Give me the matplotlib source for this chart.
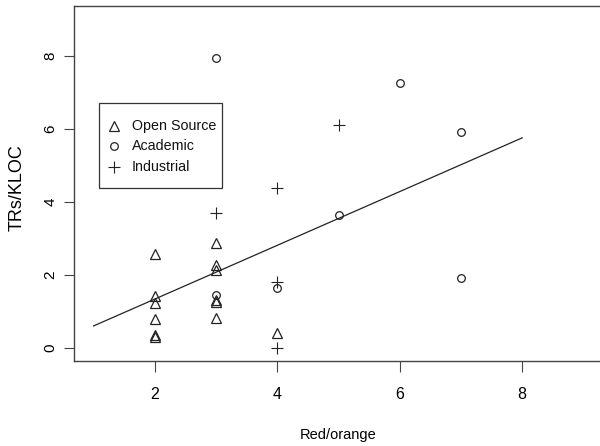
import matplotlib
matplotlib.use("Agg")
import matplotlib.pyplot as plt
from matplotlib.lines import Line2D
from matplotlib.patches import Rectangle

# values
open_x = [2, 2, 2, 2, 2, 2, 3, 3, 3, 3, 3, 3, 4]
open_y = [2.57, 1.43, 1.22, 0.79, 0.35, 0.30, 2.86, 2.27, 2.13, 1.30, 1.25, 0.82, 0.40]

acad_x = [3, 3, 4, 5, 6, 7, 7]
acad_y = [7.94, 1.45, 1.63, 3.63, 7.24, 5.91, 1.91]

ind_x = [3, 4, 4, 4, 5]
ind_y = [3.69, 4.38, 1.79, 0.0, 6.09]

# fitted line end points
fit_x = [1, 8]
fit_y = [0.60, 5.75]

x_ticks = [2, 4, 6, 8]
y_ticks = [0, 2, 4, 6, 8]

legend_labels = ["Open Source", "Academic", "Industrial"]

ink = "#222222"
regular = ["Liberation Sans", "DejaVu Sans"]

W, H = 600, 446


def fx(px):
    return px / W


def fy(py):
    return 1 - py / H


fig = plt.figure(figsize=(6.0, 4.46), dpi=100)
ax = fig.add_axes([fx(74), fy(361), 529 / W, 355 / H])

styles = [
    dict(marker="^", markersize=7, markerfacecolor="none",
         markeredgecolor=ink, markeredgewidth=0.9),
    dict(marker="o", markersize=5.5, markerfacecolor="none",
         markeredgecolor=ink, markeredgewidth=0.9),
    dict(marker="+", markersize=9, markeredgecolor=ink, markeredgewidth=0.8),
]

ax.plot(open_x, open_y, linestyle="none", **styles[0])
ax.plot(acad_x, acad_y, linestyle="none", **styles[1])
ax.plot(ind_x, ind_y, linestyle="none", **styles[2])
ax.plot(fit_x, fit_y, color=ink, linewidth=0.9)

ax.set_xlim(0.68, 9.32)
ax.set_ylim(-0.36, 9.36)
ax.set_xticks(x_ticks)
ax.set_yticks(y_ticks)

for s in ax.spines.values():
    s.set_color("#444444")
    s.set_linewidth(1.0)

ax.tick_params(axis="x", direction="out", length=8, width=0.8, color="#444444",
               pad=11, labelsize=11.5)
ax.tick_params(axis="y", direction="out", length=7, width=0.8, color="#444444",
               pad=5, labelsize=11, labelrotation=90)
for t in ax.get_xticklabels() + ax.get_yticklabels():
    t.set_family(regular)
for t in ax.get_yticklabels():
    t.set_va("center")

ax.set_xlabel("Red/orange", family=regular, fontsize=10.5)
ax.xaxis.set_label_coords(0.5, -0.19)
ax.set_ylabel("TRs/KLOC", family=regular, fontsize=13)
ax.yaxis.set_label_coords(-0.092, 0.487)

# legend box, drawn by hand to match the R layout
fig.patches.append(Rectangle((fx(99), fy(188)), (222 - 99) / W, (188 - 103) / H,
                             transform=fig.transFigure, facecolor="white",
                             edgecolor="#333333", linewidth=0.9, zorder=5))
for i, (lab, st) in enumerate(zip(legend_labels, styles)):
    row = 125.7 + i * 20.5
    fig.add_artist(Line2D([fx(114)], [fy(row)], transform=fig.transFigure,
                          linestyle="none", zorder=6, **st))
    fig.text(fx(132), fy(row), lab, family=regular, fontsize=10.3,
             va="center", ha="left", color="#111111", zorder=6)

fig.savefig("out.png", dpi=100)
